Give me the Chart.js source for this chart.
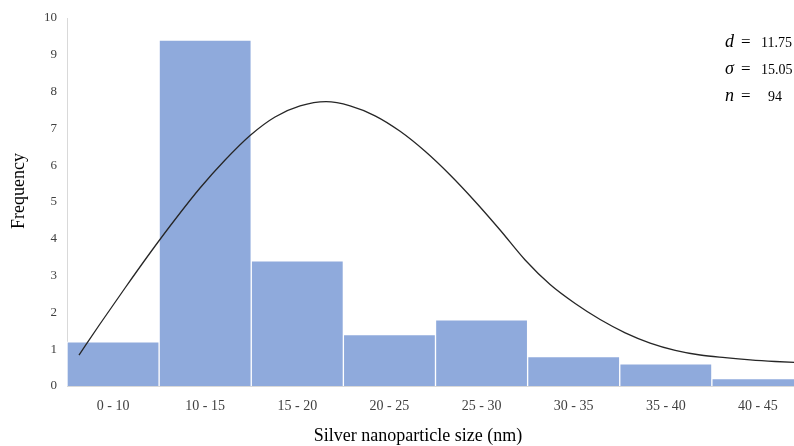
<!DOCTYPE html>
<html>
<head>
<meta charset="utf-8">
<script src="https://cdn.jsdelivr.net/npm/chart.js@4/dist/chart.umd.min.js"></script>
<style>
  html, body { margin: 0; padding: 0; background: #ffffff; overflow: hidden; }
  #wrap { position: relative; width: 812px; height: 446px; }
  canvas { display: block; }
</style>
</head>
<body>
<div id="wrap"><canvas id="c" width="812" height="446"></canvas></div>
<script>
// ---- data ----
const categories = ['0 - 10', '10 - 15', '15 - 20', '20 - 25', '25 - 30', '30 - 35', '35 - 40', '40 - 45'];
const frequency = [1.2, 9.4, 3.4, 1.4, 1.8, 0.8, 0.6, 0.2];
// fitted curve, x in category-index units (category centres at 0..7)
const curveX = [-0.370, -0.142, 0.130, 0.401, 0.673, 0.944, 1.216, 1.487, 1.758, 2.030, 2.312, 2.573, 2.844, 3.116, 3.387, 3.659, 3.930, 4.201, 4.473, 4.744, 5.016, 5.287, 5.559, 5.830, 6.102, 6.373, 6.644, 6.916, 7.187, 7.5];
const curveY = [0.842, 1.685, 2.663, 3.614, 4.524, 5.380, 6.141, 6.807, 7.310, 7.609, 7.726, 7.614, 7.342, 6.921, 6.378, 5.734, 5.014, 4.239, 3.424, 2.758, 2.242, 1.807, 1.446, 1.168, 0.970, 0.842, 0.769, 0.709, 0.666, 0.630];
const yTicks = [0, 1, 2, 3, 4, 5, 6, 7, 8, 9, 10];
const statSymbols = ['d', 'σ', 'n'];
const statValues = ['11.75', '15.05', '94'];
const xTitle = 'Silver nanoparticle size (nm)';
const yTitle = 'Frequency';

const serif = '"Liberation Serif", "DejaVu Serif", serif';

const textPlugin = {
  id: 'texts',
  afterDraw(chart) {
    const ctx = chart.ctx;
    ctx.save();
    ctx.fillStyle = '#000000';
    // axis titles
    ctx.font = '18px ' + serif;
    ctx.textAlign = 'center';
    ctx.textBaseline = 'middle';
    ctx.fillText(xTitle, 418, 436);
    ctx.save();
    ctx.translate(19, 191);
    ctx.rotate(-Math.PI / 2);
    ctx.fillText(yTitle, 0, 0);
    ctx.restore();
    // statistics block
    const baselines = [47, 74, 101];
    ctx.textBaseline = 'alphabetic';
    for (let i = 0; i < statSymbols.length; i++) {
      ctx.textAlign = 'left';
      ctx.font = 'italic 18px ' + serif;
      ctx.fillText(statSymbols[i], 725, baselines[i]);
      ctx.font = '17px ' + serif;
      ctx.fillText('=', 741, baselines[i]);
      ctx.font = '14px ' + serif;
      const vx = statValues[i].length < 4 ? 768 : 761;
      ctx.fillText(statValues[i], vx, baselines[i]);
    }
    ctx.restore();
  }
};

new Chart(document.getElementById('c'), {
  type: 'bar',
  data: {
    labels: categories,
    datasets: [
      {
        type: 'line',
        data: curveX.map((x, i) => ({ x: x, y: curveY[i] })),
        xAxisID: 'x2',
        borderColor: '#262626',
        borderWidth: 1.3,
        pointRadius: 0,
        cubicInterpolationMode: 'monotone',
        fill: false,
        order: 0
      },
      {
        type: 'bar',
        data: frequency,
        xAxisID: 'x',
        backgroundColor: '#8FAADC',
        borderColor: '#ffffff',
        borderWidth: 1,
        barPercentage: 1,
        categoryPercentage: 1,
        grouped: false,
        order: 1
      }
    ]
  },
  options: {
    responsive: false,
    animation: false,
    devicePixelRatio: 1,
    layout: { padding: { left: 0, top: 18, right: 8, bottom: 0 } },
    plugins: { legend: { display: false }, tooltip: { enabled: false } },
    scales: {
      x: {
        type: 'category',
        offset: true,
        grid: { display: false, drawTicks: false },
        border: { display: true, color: '#d9d9d9', width: 1 },
        ticks: { color: '#404040', font: { family: serif, size: 14 }, padding: 12, maxRotation: 0, autoSkip: false },
        afterFit(s) { s.height = 60; }
      },
      x2: {
        type: 'linear',
        display: false,
        offset: false,
        grid: { offset: false },
        min: -0.5,
        max: 7.5
      },
      y: {
        min: 0,
        max: 10,
        grid: { display: false, drawTicks: false },
        border: { display: true, color: '#d9d9d9', width: 1 },
        afterBuildTicks(s) { s.ticks = yTicks.map(v => ({ value: v })); },
        ticks: { color: '#404040', font: { family: serif, size: 13 }, padding: 10 },
        afterFit(s) { s.width = 67; }
      }
    }
  },
  plugins: [textPlugin]
});
</script>
</body>
</html>
